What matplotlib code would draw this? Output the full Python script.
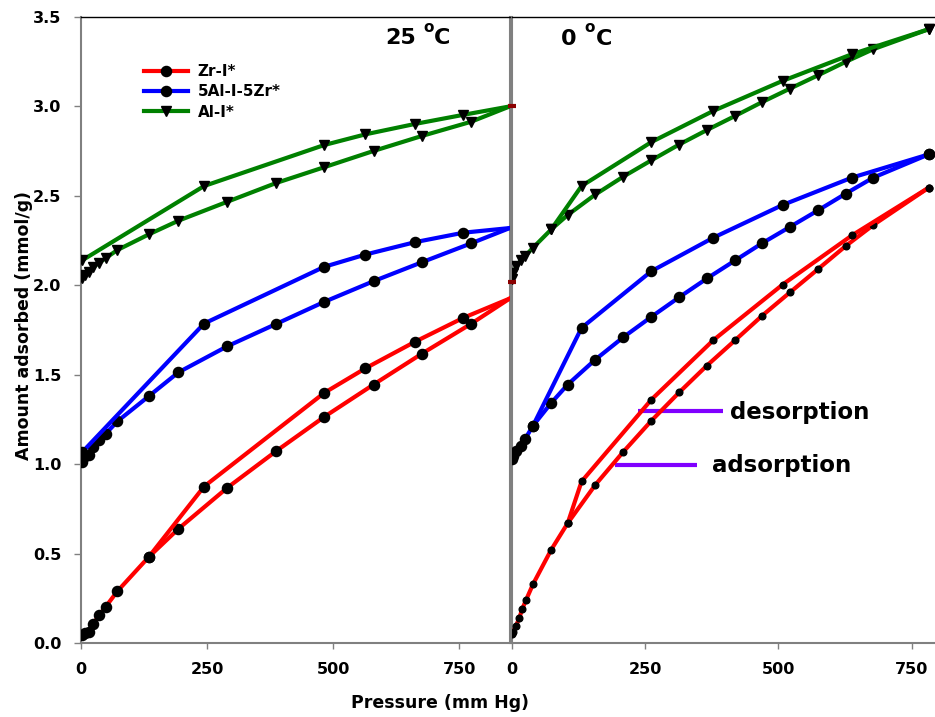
import matplotlib
matplotlib.use("Agg")
import matplotlib.pyplot as plt
from matplotlib.lines import Line2D

plt.rcParams['font.family'] = ['DejaVu Sans']
plt.rcParams['font.weight'] = 'bold'

# ---- 25 C isotherms ----
p_ads_25 = [1, 8, 15, 24, 36, 49, 72, 134, 193, 290, 387, 482, 580, 676, 773, 850]
zr_ads_25 = [0.045, 0.054, 0.063, 0.106, 0.155, 0.203, 0.289, 0.48, 0.638, 0.868,
             1.073, 1.264, 1.445, 1.618, 1.784, 1.926]
alzr_ads_25 = [1.01, 1.043, 1.053, 1.096, 1.137, 1.17, 1.239, 1.379, 1.513, 1.659,
               1.784, 1.907, 2.023, 2.129, 2.234, 2.32]
al_ads_25 = [2.04, 2.055, 2.075, 2.101, 2.126, 2.152, 2.197, 2.284, 2.361, 2.467,
             2.572, 2.66, 2.751, 2.835, 2.914, 3.0]

p_des_25 = [850, 758, 662, 564, 482, 244]
zr_des_25 = [1.926, 1.818, 1.684, 1.536, 1.398, 0.875]
alzr_des_25 = [2.32, 2.294, 2.241, 2.172, 2.103, 1.786]
al_des_25 = [3.0, 2.953, 2.902, 2.844, 2.784, 2.555]
# last desorption point of each series
zr_des_25_end = (134, 0.48)
alzr_des_25_end = (2, 1.066)
al_des_25_end = (2, 2.139)

# ---- 0 C isotherms ----
p_ads_0 = [0, 3, 9, 17, 25, 40, 74, 105, 157, 209, 262, 314, 366, 419, 470, 522,
           575, 626, 678, 782]
alzr_ads_0 = [1.028, 1.043, 1.071, 1.099, 1.14, 1.215, 1.342, 1.445, 1.585, 1.709,
              1.824, 1.933, 2.038, 2.139, 2.236, 2.327, 2.42, 2.512, 2.602, 2.732]
al_ads_0 = [2.033, 2.07, 2.107, 2.14, 2.163, 2.21, 2.312, 2.393, 2.508, 2.607,
            2.699, 2.787, 2.868, 2.947, 3.025, 3.1, 3.175, 3.249, 3.32, 3.432]
p_zr_ads_0 = [1, 3, 8, 14, 20, 27, 40, 74, 105, 157, 209, 262, 314, 366, 419, 470,
              522, 575, 626, 678, 782]
zr_ads_0 = [0.05, 0.063, 0.095, 0.138, 0.192, 0.241, 0.329, 0.521, 0.67, 0.885,
            1.068, 1.243, 1.401, 1.551, 1.693, 1.831, 1.961, 2.092, 2.219, 2.337, 2.546]

p_des_0 = [782, 638, 508, 378, 262, 131]
zr_des_0 = [2.546, 2.279, 2.004, 1.693, 1.361, 0.903]
alzr_des_0 = [2.732, 2.602, 2.449, 2.266, 2.079, 1.762]
al_des_0 = [3.432, 3.292, 3.143, 2.975, 2.801, 2.555]
zr_des_0_end = (105, 0.67)
alzr_des_0_end = (40, 1.215)
al_des_0_end = (74, 2.312)

labels = ['Zr-I*', '5Al-I-5Zr*', 'Al-I*']
colors = ['#ff0000', '#0000ff', '#008000']
markers = ['o', 'o', 'v']

W, H = 935, 717
fig = plt.figure(figsize=(W / 100, H / 100), dpi=100)


def fx(px):
    return px / W


def fy(py):
    return 1 - py / H


ax1 = fig.add_axes([fx(81), fy(643), fx(510 - 81), (643 - 17) / H])
ax2 = fig.add_axes([fx(511.7), fy(643), fx(935 - 511.7), (643 - 17) / H])

lw = 3.0
ms_big = 7.3
ms_small = 4.8


def branch(ax, p, y, end, color, marker, ms, skip_first=False):
    xs = list(p) + [end[0]]
    ys = list(y) + [end[1]]
    every = slice(1, None) if skip_first else None
    ax.plot(xs, ys, color=color, lw=lw, marker=marker, ms=ms, markevery=every,
            mfc='black', mec='black', zorder=3)


# left panel, 25 C (the 850 mm Hg point sits on the panel border, no marker)
for p, y, c, m in [(p_ads_25, zr_ads_25, colors[0], markers[0]),
                   (p_ads_25, alzr_ads_25, colors[1], markers[1]),
                   (p_ads_25, al_ads_25, colors[2], markers[2])]:
    ax1.plot(p, y, color=c, lw=lw, marker=m, ms=ms_big, markevery=slice(0, -1),
             mfc='black', mec='black', zorder=3)
branch(ax1, p_des_25, zr_des_25, zr_des_25_end, colors[0], markers[0], ms_big, True)
branch(ax1, p_des_25, alzr_des_25, alzr_des_25_end, colors[1], markers[1], ms_big, True)
branch(ax1, p_des_25, al_des_25, al_des_25_end, colors[2], markers[2], ms_big, True)

# right panel, 0 C
ax2.plot(p_zr_ads_0, zr_ads_0, color=colors[0], lw=lw, marker='o', ms=ms_small,
         mfc='black', mec='black', zorder=3)
ax2.plot(p_ads_0, alzr_ads_0, color=colors[1], lw=lw, marker='o', ms=ms_big,
         mfc='black', mec='black', zorder=3)
ax2.plot(p_ads_0, al_ads_0, color=colors[2], lw=lw, marker='v', ms=ms_big,
         mfc='black', mec='black', zorder=3)
branch(ax2, p_des_0, zr_des_0, zr_des_0_end, colors[0], 'o', ms_small)
branch(ax2, p_des_0, alzr_des_0, alzr_des_0_end, colors[1], 'o', ms_big)
branch(ax2, p_des_0, al_des_0, al_des_0_end, colors[2], 'v', ms_big)
ax2.plot([0, 0], [3.0, 2.016], ls='none', marker='_', ms=6, mew=3,
         color='#8b0000', clip_on=False, zorder=4)

ax1.set_xlim(0, 850.5)
ax2.set_xlim(0, 793.7)
for ax in (ax1, ax2):
    ax.set_ylim(0, 3.5)
    ax.set_xticks([0, 250, 500, 750])
    ax.tick_params(axis='both', direction='out', length=4, width=1, color='#808080',
                   labelsize=11.5, pad=10)
    for side in ('left', 'bottom', 'right'):
        ax.spines[side].set_color('#808080')
        ax.spines[side].set_linewidth(1.5)
    ax.spines['top'].set_color('black')
    ax.spines['top'].set_linewidth(1)
    for lab in ax.get_xticklabels() + ax.get_yticklabels():
        lab.set_fontweight('bold')

ax1.set_yticks([0, 0.5, 1.0, 1.5, 2.0, 2.5, 3.0, 3.5])
ax1.set_yticklabels(['0.0', '0.5', '1.0', '1.5', '2.0', '2.5', '3.0', '3.5'])
ax1.tick_params(axis='y', length=5, pad=9)
ax2.tick_params(axis='y', left=False, labelleft=False)
ax2.spines['right'].set_visible(False)

# legend
handles = [Line2D([], [], color=c, lw=lw, marker=m, ms=ms_big, mfc='black', mec='black')
           for c, m in zip(colors, markers)]
ax1.legend(handles, labels, loc='upper left',
           bbox_to_anchor=((138 - 81) / 429, 1 - (58 - 17) / 626),
           frameon=False, fontsize=11, handlelength=2.9, handletextpad=0.6,
           labelspacing=0.35, borderaxespad=0)

# temperature labels
fig.text(fx(385), fy(44), '25', fontsize=16, fontweight='bold', va='baseline')
fig.text(fx(423), fy(32), 'o', fontsize=11, fontweight='bold', va='baseline')
fig.text(fx(434), fy(44), 'C', fontsize=16, fontweight='bold', va='baseline')
fig.text(fx(561), fy(45), '0', fontsize=16, fontweight='bold', va='baseline')
fig.text(fx(584), fy(32), 'o', fontsize=11, fontweight='bold', va='baseline')
fig.text(fx(596), fy(45), 'C', fontsize=16, fontweight='bold', va='baseline')

# branch annotations
ax2.plot([237, 397], [1.295, 1.295], color='#8000ff', lw=3, solid_capstyle='butt')
ax2.plot([194, 347], [0.993, 0.993], color='#8000ff', lw=3, solid_capstyle='butt')
ax2.text(409, 1.29, 'desorption', fontsize=16.5, fontweight='bold', va='center')
ax2.text(375, 0.99, 'adsorption', fontsize=16.5, fontweight='bold', va='center')

fig.text(fx(440), fy(703), 'Pressure (mm Hg)', fontsize=12.5, fontweight='bold',
         ha='center', va='center')
fig.text(fx(24), fy(325), 'Amount adsorbed (mmol/g)', fontsize=12.5, fontweight='bold',
         ha='center', va='center', rotation=90)

fig.savefig('out.png', dpi=100)
